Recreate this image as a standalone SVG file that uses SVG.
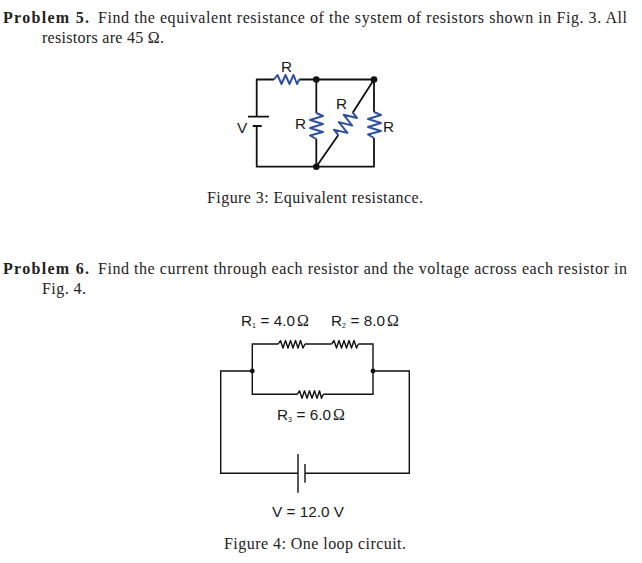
<svg xmlns="http://www.w3.org/2000/svg" width="642" height="563" viewBox="0 0 642 563">
<style>
.t{font-family:"Liberation Serif","Times New Roman",serif;font-size:16px;fill:#222;}
.b{font-weight:bold;}
.l{font-family:"Liberation Sans",Arial,sans-serif;font-size:15.3px;fill:#1a1a1a;}
.s{font-size:7px;}
.o{font-family:"Liberation Serif","Times New Roman",serif;font-size:16px;}
.w{fill:none;stroke:#111;stroke-width:1.8;stroke-linejoin:round;}
.w2{fill:none;stroke:#111;stroke-width:1.4;}
.r{fill:none;stroke:#2f4fa0;stroke-width:2;stroke-linejoin:round;}
.k{fill:none;stroke:#111;stroke-width:1.4;stroke-linejoin:round;}
.d{fill:#111;}
</style>
<rect width="642" height="563" fill="#fff"/>
<g id="problem5-text">
<text class="t b" x="3" y="23" textLength="86" lengthAdjust="spacing">Problem 5.</text>
<text class="t" x="98" y="23" textLength="529" lengthAdjust="spacing">Find the equivalent resistance of the system of resistors shown in Fig. 3. All</text>
<text class="t" x="42" y="43" textLength="122" lengthAdjust="spacing">resistors are 45 Ω.</text>
<text class="t" x="207" y="203" textLength="216" lengthAdjust="spacing">Figure 3: Equivalent resistance.</text>
</g>
<g id="problem6-text">
<text class="t b" x="3" y="274" textLength="86" lengthAdjust="spacing">Problem 6.</text>
<text class="t" x="98" y="274" textLength="529" lengthAdjust="spacing">Find the current through each resistor and the voltage across each resistor in</text>
<text class="t" x="42" y="294" textLength="44" lengthAdjust="spacing">Fig. 4.</text>
<text class="t" x="224" y="549" textLength="182" lengthAdjust="spacing">Figure 4: One loop circuit.</text>
</g>
<g id="fig3-connectors">
<path class="w" d="M274 79.5H256.7V116.7M256.7 126V166.7H374V138M374 112V79.5H299.3M316.3 79.5V113M316.3 139V166.7M374 79.5L352.7 112.7M338.3 135L316.3 166.7"/>
<path class="w" d="M248 116.7H269M252.7 126H261.7"/>
</g>
<g id="fig3-r-top">
<path class="r" d="M274 79.5L277.5 75L281.5 84L285.5 75L289.5 84L293.5 75L297 84L299.3 79.5"/>
<text class="l" x="281" y="71.5">R</text>
</g>
<g id="fig3-r-mid">
<path class="r" d="M316.3 113L323 116L310 120L323 124L310 128L323 132L310 135.5L316.3 139"/>
<text class="l" x="295" y="129">R</text>
</g>
<g id="fig3-r-diag">
<path class="r" d="M352.7 112.7L357 118L343.7 114.8L352.2 125.5L338.8 122.1L347.4 132.9L333.9 129.7L338.3 135"/>
<text class="l" x="336" y="109">R</text>
</g>
<g id="fig3-r-right">
<path class="r" d="M374 112L381 115L368 119L381 123L368 127L381 131L368 134.5L374 138"/>
<text class="l" x="383" y="132">R</text>
</g>
<g id="fig3-v"><text class="l" x="237" y="133">V</text></g>
<g id="fig3-junctions">
<circle class="d" cx="316.3" cy="79.5" r="3.3"/>
<circle class="d" cx="374" cy="79.5" r="3.3"/>
<circle class="d" cx="316.3" cy="166.7" r="3.3"/>
</g>
<g id="fig4-connectors">
<path class="w2" d="M278.3 344H252.3V394.3H297.3M323.3 394.3H373V344H358.3M331.7 344H305M252.3 371H220.7V473.3H298M305 473.3H409.3V371H373"/>
<path class="w2" d="M298 454V492.7M305 464V482.7"/>
</g>
<g id="fig4-r1">
<path class="k" d="M278.3 344L280.5 340.5L283 348L285.5 340.5L288 348L290.5 340.5L293 348L295.5 340.5L298 348L300.5 340.5L303 348L305 344"/>
<text class="l" x="241" y="326">R<tspan class="s" dy="2">1</tspan><tspan x="260.5" dy="-2">= 4.0</tspan><tspan class="o" x="297">Ω</tspan></text>
</g>
<g id="fig4-r2">
<path class="k" d="M331.7 344L334 340.5L336.5 348L339 340.5L341.5 348L344 340.5L346.5 348L349 340.5L351.5 348L354 340.5L356.5 348L358.3 344"/>
<text class="l" x="331" y="326">R<tspan class="s" dy="2">2</tspan><tspan x="350.5" dy="-2">= 8.0</tspan><tspan class="o" x="387">Ω</tspan></text>
</g>
<g id="fig4-r3">
<path class="k" d="M297.3 394.3L299.5 390.8L302 398.3L304.5 390.8L307 398.3L309.5 390.8L312 398.3L314.5 390.8L317 398.3L319.5 390.8L321.5 398.3L323.3 394.3"/>
<text class="l" x="277" y="420">R<tspan class="s" dy="2">3</tspan><tspan x="296.5" dy="-2">= 6.0</tspan><tspan class="o" x="333">Ω</tspan></text>
</g>
<g id="fig4-battery"><text class="l" x="272" y="517">V = 12.0 V</text></g>
<g id="fig4-junctions">
<circle class="d" cx="252.3" cy="371" r="2.4"/>
<circle class="d" cx="373" cy="371" r="2.4"/>
</g>
</svg>
